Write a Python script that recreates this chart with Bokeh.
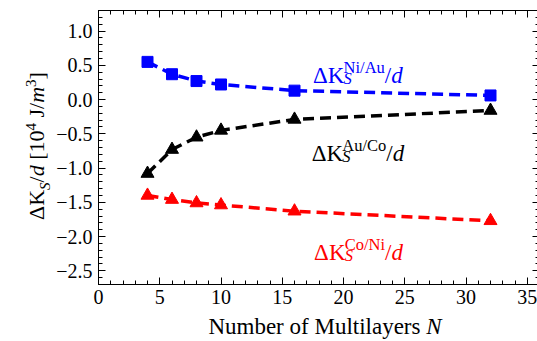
import math

from bokeh.embed import file_html
from bokeh.layouts import column, row
from bokeh.models import (CustomJSTickFormatter, Div, Label, LinearAxis,
                          Range1d, SingleIntervalTicker)
from bokeh.plotting import figure
from bokeh.resources import INLINE

# ---- data -------------------------------------------------------------
layers = [4, 6, 8, 10, 16, 32]                       # number of multilayers N
dk_ni_au = [0.55, 0.37, 0.27, 0.22, 0.13, 0.06]      # ΔK_S^{Ni/Au}/d
dk_au_co = [-1.08, -0.73, -0.55, -0.45, -0.29, -0.16]  # ΔK_S^{Au/Co}/d
dk_co_ni = [-1.40, -1.46, -1.51, -1.54, -1.63, -1.77]  # ΔK_S^{Co/Ni}/d

x_tick_step = 5
y_tick_step = 0.5

FONT = "Liberation Serif"

# approximate Times advance widths (em) for the characters used in labels
WIDTH_ROMAN = {"Δ": 0.612, "K": 0.722, "N": 0.722, "i": 0.278, "/": 0.278,
               "A": 0.722, "u": 0.5, "C": 0.667, "o": 0.5}
WIDTH_ITALIC = {"S": 0.5, "d": 0.5}


def text_width(text, size, italic):
    table = WIDTH_ITALIC if italic else WIDTH_ROMAN
    return sum(table.get(ch, 0.5) for ch in text) * size


def rich_label(p, x, y, runs, color, size, small):
    """Draw text made of runs (text, role, italic); role is base/sub/sup.
    A sup directly after a sub is stacked above it."""
    adv = 0.0
    sub_start, sub_w = None, 0.0
    for text, role, italic in runs:
        fs = size if role == "base" else small
        w = text_width(text, fs, italic)
        shift = {"base": 0.0, "sub": -0.12 * size, "sup": 0.36 * size}[role]
        if role == "sup" and sub_start is not None:
            start = sub_start
            adv = max(sub_start + sub_w, start + w)
            sub_start = None
        else:
            start = adv
            adv = start + w
            if role == "sub":
                sub_start, sub_w = start, w
            else:
                sub_start = None
        p.add_layout(Label(x=x, y=y, x_offset=start, y_offset=shift, text=text,
                           text_font=FONT, text_font_size=f"{fs}px",
                           text_font_style="italic" if italic else "normal",
                           text_color=color, text_baseline="alphabetic",
                           text_align="left"))


# ---- figure -------------------------------------------------------------
# the frame runs to x = 36, just past the right edge of the page
p = figure(width=490, height=316, x_range=Range1d(0, 36),
           y_range=Range1d(-2.7, 1.3), output_backend="svg",
           toolbar_location=None, min_border_left=48, min_border_right=1,
           min_border_top=10, min_border_bottom=32)
p.xgrid.visible = False
p.ygrid.visible = False
p.outline_line_color = "black"
p.outline_line_width = 1
p.background_fill_color = "white"
p.border_fill_color = "white"

y_fmt = CustomJSTickFormatter(code="""
    if (Math.abs(tick) < 1e-9) { return '0.0'; }
    return tick.toFixed(1).replace('-', '\\u2212');
""")
x_fmt = CustomJSTickFormatter(code="return Math.round(tick).toString();")
blank = CustomJSTickFormatter(code="return '';")


def style_axis(ax):
    ax.major_tick_in = 7
    ax.major_tick_out = 0
    ax.minor_tick_in = 4
    ax.minor_tick_out = 0
    ax.axis_line_color = "black"
    ax.major_tick_line_color = "black"
    ax.minor_tick_line_color = "black"
    ax.major_label_text_font = FONT
    ax.major_label_text_font_size = "20px"
    ax.major_label_text_color = "black"


p.xaxis.ticker = SingleIntervalTicker(interval=x_tick_step, num_minor_ticks=5)
p.xaxis.formatter = x_fmt
p.xaxis.major_label_standoff = 5
p.yaxis.ticker = SingleIntervalTicker(interval=y_tick_step, num_minor_ticks=5)
p.yaxis.formatter = y_fmt
p.yaxis.major_label_standoff = 6
style_axis(p.xaxis[0])
style_axis(p.yaxis[0])

# mirrored ticks on the top and right frame edges (no labels)
top = LinearAxis(ticker=SingleIntervalTicker(interval=x_tick_step, num_minor_ticks=5),
                 formatter=blank, major_label_standoff=0, axis_label_standoff=0)
right = LinearAxis(ticker=SingleIntervalTicker(interval=y_tick_step, num_minor_ticks=5),
                   formatter=blank, major_label_standoff=0, axis_label_standoff=0)
for ax in (top, right):
    style_axis(ax)
p.add_layout(top, "above")
p.add_layout(right, "right")

# ---- series -------------------------------------------------------------
dash = "11 6"
p.line(layers, dk_ni_au, line_color="blue", line_width=3.5, line_dash=dash)
p.scatter(layers, dk_ni_au, marker="square", size=11, color="blue")

p.line(layers, dk_au_co, line_color="black", line_width=3.5, line_dash=dash)
p.scatter(layers, dk_au_co, marker="triangle", size=13, color="black")

p.line(layers, dk_co_ni, line_color="red", line_width=3.5, line_dash=dash)
p.scatter(layers, dk_co_ni, marker="triangle", size=13, color="red")


# ---- series labels --------------------------------------------------------
def series_runs(sup):
    return [("ΔK", "base", False), ("S", "sub", True), (sup, "sup", False),
            ("/", "base", False), ("d", "base", True)]


rich_label(p, 17.5, 0.35, series_runs("Ni/Au"), "blue", 23, 16.5)
rich_label(p, 17.4, -0.79, series_runs("Au/Co"), "black", 23, 16.5)
rich_label(p, 17.6, -2.23, series_runs("Co/Ni"), "red", 23, 16.5)

# ---- axis titles ----------------------------------------------------------
TITLE_CSS = (f"font-family:'{FONT}', serif; font-size:22px; color:black;"
             " white-space:nowrap; box-sizing:border-box;")

y_title = Div(
    width=50, height=316, margin=0,
    text=(
        '<div style="position:relative; width:50px; height:316px;">'
        f'<div style="position:absolute; left:38px; top:146px; line-height:22px; {TITLE_CSS}'
        ' transform:translate(-50%,-50%) rotate(-90deg);">'
        'ΔK<sub style="font-size:15px;"><i>S</i></sub>/<i>d</i>'
        ' [10<sup style="font-size:15px;">4</sup> J/<i>m</i>'
        '<sup style="font-size:15px;">3</sup>]</div></div>'
    ),
)

x_title = Div(
    width=537, height=25, margin=0,
    text=(
        f'<div style="width:537px; padding-left:113px; text-align:center;'
        f' line-height:22px; {TITLE_CSS} font-size:23px;">'
        'Number of Multilayers <i>N</i></div>'
    ),
)

layout = column(row(y_title, p, spacing=0), x_title, spacing=0)

html = file_html(layout, INLINE)
# no page margin and no scrollbars around the fixed-size layout
html = html.replace("<body>", '<body style="margin:0; overflow:hidden;">', 1)
open("out.html", "w").write(html)
